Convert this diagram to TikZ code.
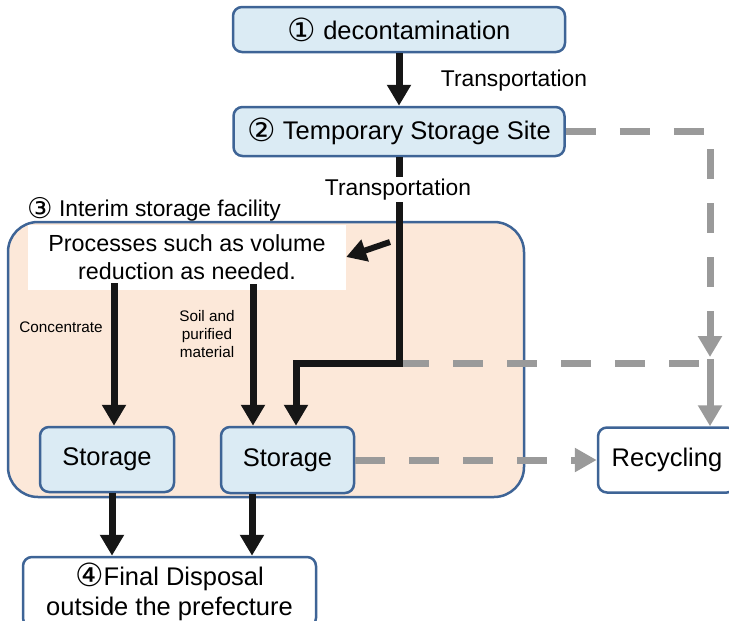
\documentclass[tikz,border=0pt]{standalone}
\usepackage{fontspec}
\setmainfont{Liberation Sans}
\newfontfamily\dejavu{DejaVu Sans}
\usetikzlibrary{arrows.meta}
\definecolor{bluefill}{HTML}{DBEBF4}
\definecolor{blueline}{HTML}{3E6496}
\definecolor{peach}{HTML}{FCE8D9}
\definecolor{grayline}{HTML}{9A9A9A}
\definecolor{blk}{HTML}{161616}
\newcommand{\circnum}[1]{{\dejavu\raisebox{-0.06em}{\scalebox{1.25}{#1}}}}
\begin{document}
\begin{tikzpicture}[x=1pt,y=-1pt,
  bluebox/.style={draw=blueline, fill=bluefill, line width=2.5pt, rounded corners=9pt, inner sep=0pt, font=\fontsize{25.5}{30}\selectfont},
  whitebox/.style={bluebox, fill=white},
  blackarrow/.style={draw=blk, line width=7pt, -{Triangle[width=23pt,length=21pt]}},
  grayarrow/.style={draw=grayline, line width=7pt, -{Triangle[width=23pt,length=21pt]}},
  graydash/.style={draw=grayline, line width=7pt, dash pattern=on 30pt off 24pt},
  lbl/.style={font=\fontsize{22.8}{27}\selectfont, inner sep=2pt},
  small/.style={font=\fontsize{15.3}{18}\selectfont, align=center, inner sep=0pt}]
\useasboundingbox (0,0) rectangle (729,621);
\clip (0,0) rectangle (729,621);

% interim storage facility area
\node[draw=blueline, fill=peach, line width=2.5pt, rounded corners=30pt, minimum width=516pt, minimum height=275pt, inner sep=0pt] (isf) at (266,359.5) {};
\node[fill=white, minimum width=318pt, minimum height=65pt, inner sep=0pt, align=center, font=\fontsize{23.3}{28}\selectfont] (proc) at (187,257) {Processes such as volume\\reduction as needed.};

% boxes
\node[bluebox, minimum width=332pt, minimum height=45pt] (dec) at (399,29.5) {\circnum{①} decontamination};
\node[bluebox, minimum width=331pt, minimum height=49pt] (tss) at (399,131.5) {\circnum{②} Temporary Storage Site};
\node[bluebox, minimum width=134pt, minimum height=65pt] (st1) at (107,459.5) {Storage};
\node[bluebox, minimum width=133pt, minimum height=66pt] (st2) at (287.5,460) {Storage};
\node[whitebox, minimum width=138pt, minimum height=65pt] (rec) at (667,460) {Recycling};
\node[whitebox, minimum width=293pt, minimum height=70pt, align=center] (fin) at (169.5,592) {\circnum{④}Final Disposal\\outside the prefecture};

% labels
\node[lbl] (t1) at (514,80.5) {Transportation};
\node[lbl, anchor=west] (isfl) at (25,209.5) {\circnum{③} Interim storage facility};
\node[small] (conc) at (61,327) {Concentrate};
\node[small] (soil) at (207,334) {Soil and\\purified\\material};

% coordinates
\coordinate (j1) at (399,363);
\coordinate (j2) at (296,363);
\coordinate (g1) at (710,131.5);
\coordinate (g2) at (710,357);
\coordinate (g3) at (710,363);
\coordinate (g4) at (710,359);
\coordinate (p1) at (114,283);
\coordinate (p2) at (253,284);
\coordinate (d1) at (390,242);
\coordinate (o1) at (112,0);
\coordinate (o2) at (252,0);

% gray connectors
\draw[graydash] (j1) -- (g3);
\draw[graydash, -{Triangle[width=23pt,length=21pt]}] (tss.east) -- (g1) -- (g2);
\draw[grayarrow] (g4) -- (rec.north -| g4);
\draw[graydash, -{Triangle[width=23pt,length=22pt]}] (st2.east) -- (rec.west);

% black connectors
\draw[blackarrow] (dec.south) -- (tss.north);
\draw[blackarrow] (tss.south) -- (j1) -- (j2) -- (st2.north -| j2);
\node[lbl, fill=white] (t2) at (398,189.5) {Transportation};
\draw[draw=blk, line width=6pt, -{Triangle[width=22pt,length=20pt]}] (d1) -- (proc.east);
\draw[blackarrow] (p1) -- (st1.north -| p1);
\draw[blackarrow] (p2) -- (st2.north -| p2);
\draw[blackarrow] (st1.south -| o1) -- (fin.north -| o1);
\draw[blackarrow] (st2.south -| o2) -- (fin.north -| o2);
\end{tikzpicture}
\end{document}
